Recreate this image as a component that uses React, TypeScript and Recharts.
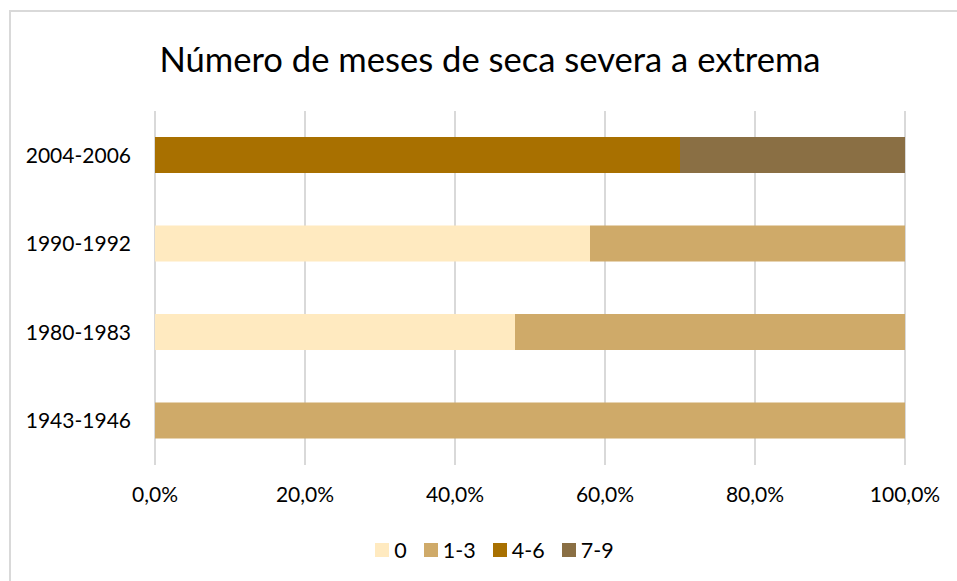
import { Bar, BarChart, CartesianGrid, Legend, XAxis, YAxis } from 'recharts';

const CATEGORIES = ['2004-2006', '1990-1992', '1980-1983', '1943-1946'];
const SERIES_NAMES = ['0', '1-3', '4-6', '7-9'];
const SERIES_COLORS = ['#FFEAC0', '#CFAA69', '#A87000', '#8A6F44'];
const VAL_0 = [0, 58, 48, 0];
const VAL_1_3 = [0, 42, 52, 100];
const VAL_4_6 = [70, 0, 0, 0];
const VAL_7_9 = [30, 0, 0, 0];
const X_TICKS = [0, 20, 40, 60, 80, 100];

const SERIES_VALUES = [VAL_0, VAL_1_3, VAL_4_6, VAL_7_9];
const FONT = 'Lato, "Open Sans", sans-serif';

const data = CATEGORIES.map((c, i) => {
  const row: Record<string, number | string> = { period: c };
  SERIES_NAMES.forEach((n, k) => { row[n] = SERIES_VALUES[k][i]; });
  return row;
});

function fmtPct(v: number): string {
  return `${v.toFixed(1).replace('.', ',')}%`;
}

function LegendRow() {
  return (
    <div style={{ display: 'flex', justifyContent: 'center', alignItems: 'center', fontFamily: FONT, fontSize: 21.5, color: '#000' }}>
      {SERIES_NAMES.map((n, k) => (
        <span key={n} style={{ display: 'inline-flex', alignItems: 'center', marginLeft: k === 0 ? 0 : 17 }}>
          <span style={{ width: 14, height: 14, background: SERIES_COLORS[k], marginRight: 5, display: 'inline-block' }} />
          {n}
        </span>
      ))}
    </div>
  );
}

export default function App() {
  return (
    <div style={{ position: 'fixed', left: 0, top: 0, width: 957, height: 581, overflow: 'hidden', background: '#fff' }}>
      <div style={{ position: 'absolute', left: 9, top: 10, width: 1100, height: 700, border: '2px solid #d9d9d9', boxSizing: 'border-box' }} />
      <div style={{ position: 'absolute', left: 0, top: 38, width: 980, textAlign: 'center', fontFamily: FONT, fontSize: 34.6, color: '#000' }}>
        Número de meses de seca severa a extrema
      </div>
      <div style={{ position: 'absolute', left: 0, top: 0 }}>
        <BarChart
          width={957}
          height={581}
          data={data}
          layout="vertical"
          margin={{ top: 111, right: 52, bottom: 36, left: 10 }}
          barSize={36}
        >
          <CartesianGrid horizontal={false} stroke="#d9d9d9" strokeWidth={2} />
          <XAxis
            type="number"
            domain={[0, 100]}
            ticks={X_TICKS}
            tickFormatter={fmtPct}
            axisLine={false}
            tickLine={false}
            height={50}
            tickMargin={16}
            tick={{ fontFamily: FONT, fontSize: 21, fill: '#000' }}
          />
          <YAxis
            type="category"
            dataKey="period"
            width={145}
            axisLine={false}
            tickLine={false}
            tickMargin={18}
            tick={{ fontFamily: FONT, fontSize: 21, fill: '#000' }}
          />
          <Legend
            verticalAlign="bottom"
            height={30}
            content={() => <LegendRow />}
            wrapperStyle={{ top: 537, bottom: 'auto', left: 16, width: 957 }}
          />
          {SERIES_NAMES.map((n, k) => (
            <Bar key={n} dataKey={n} name={n} stackId="a" fill={SERIES_COLORS[k]} isAnimationActive={false} />
          ))}
        </BarChart>
      </div>
    </div>
  );
}
